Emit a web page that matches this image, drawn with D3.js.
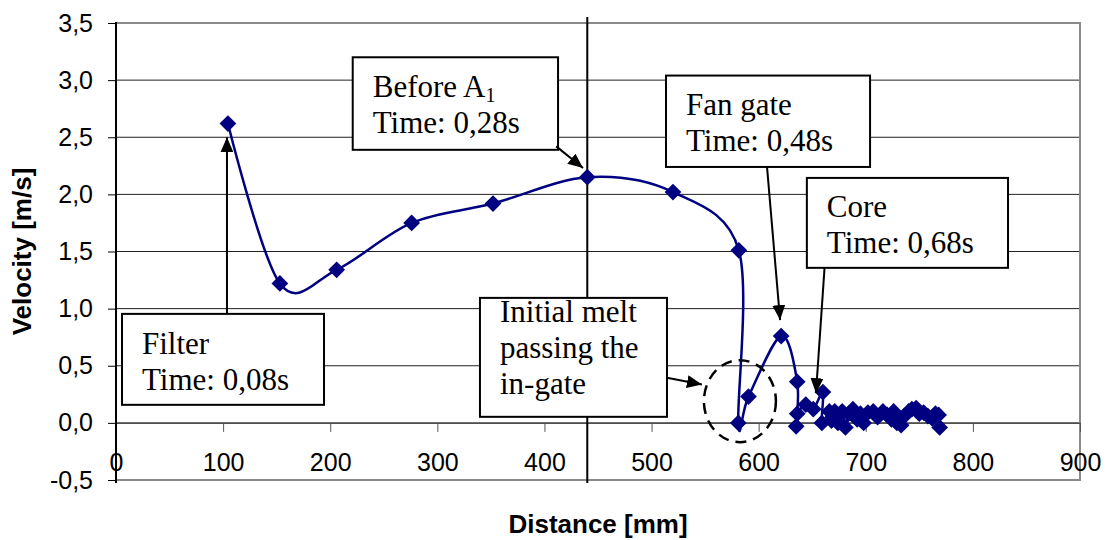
<!DOCTYPE html>
<html>
<head>
<meta charset="utf-8">
<script src="https://cdn.jsdelivr.net/npm/d3@7"></script>
<style>
  body { margin: 0; background: #fff; }
  svg { display: block; }
  text { font-family: "Liberation Sans", Arial, sans-serif; fill: #000; }
  .note text { font-family: "Liberation Serif", "Times New Roman", serif; font-size: 31px; }
</style>
</head>
<body>
<svg></svg>
<script>
// Data
const distance = [104.5, 153, 206, 276, 352, 440, 520, 581.5, 581, 590.5, 621, 636, 635, 636, 644, 651, 660, 659,
  666, 668, 671, 674, 678, 681, 684, 688, 692, 695, 698, 702, 707, 711, 716, 720, 724, 726, 729, 733, 736,
  740, 743, 747, 750, 754, 758, 762, 765, 768, 769];
const velocity = [2.62, 1.22, 1.34, 1.75, 1.92, 2.15, 2.02, 1.51, 0.0, 0.23, 0.76, 0.36, -0.03, 0.08, 0.16, 0.12, 0.27, 0.0,
  0.1, 0.02, 0.1, 0.0, 0.1, -0.04, 0.08, 0.12, 0.03, 0.08, 0.0, 0.09, 0.1, 0.05, 0.1, 0.07, 0.03, 0.1, 0.0, -0.02, 0.06,
  0.1, 0.12, 0.13, 0.08, 0.09, 0.06, 0.04, 0.08, 0.07, -0.04];
const xTicks = [0, 100, 200, 300, 400, 500, 600, 700, 800, 900];
const yTicks = [-0.5, 0, 0.5, 1, 1.5, 2, 2.5, 3, 3.5];
const markerLine = 440; // vertical reference line (mm)

// Annotation texts
const noteTexts = [
  ["Filter", "Time: 0,08s"],
  ["Before A", "Time: 0,28s"],
  ["Fan gate", "Time: 0,48s"],
  ["Core", "Time: 0,68s"],
  ["Initial melt", "passing the", "in-gate"]
];

// Dimensions and margins
const margin = { top: 23, right: 27, bottom: 60, left: 116 };
const width = 1107 - margin.left - margin.right;
const height = 540 - margin.top - margin.bottom;

const svg = d3.select("svg")
  .attr("width", width + margin.left + margin.right)
  .attr("height", height + margin.top + margin.bottom)
  .append("g")
  .attr("transform", `translate(${margin.left}, ${margin.top})`);

const xScale = d3.scaleLinear().domain([0, 900]).range([0, width]);
const yScale = d3.scaleLinear().domain([-0.5, 3.5]).range([height, 0]);

const comma = d3.formatLocale({ decimal: ",", thousands: ".", grouping: [3], currency: ["", ""], minus: "-" });

// Gridlines
svg.selectAll(".grid")
  .data(yTicks.filter(t => t > -0.5 && t < 3.5))
  .enter().append("line")
  .attr("x1", 0).attr("x2", width)
  .attr("y1", d => yScale(d)).attr("y2", d => yScale(d))
  .attr("stroke", "#222").attr("stroke-width", 1);

// Plot frame (grey)
svg.append("rect")
  .attr("width", width).attr("height", height)
  .attr("fill", "none").attr("stroke", "#8a8a8a").attr("stroke-width", 2);

// X axis sits on y = 0, labels pushed down
const xAxis = svg.append("g")
  .attr("transform", `translate(0, ${yScale(0)})`)
  .call(d3.axisBottom(xScale).tickValues(xTicks).tickSize(9).tickPadding(21).tickFormat(d3.format("d")));
xAxis.select(".domain").attr("stroke", "#444");
xAxis.selectAll(".tick line").attr("stroke", "#555");
xAxis.selectAll("text").style("font-size", "25px");

// Y axis
const yAxis = svg.append("g")
  .call(d3.axisLeft(yScale).tickValues(yTicks).tickSize(8).tickPadding(15).tickFormat(comma.format(".1f")));
yAxis.select(".domain").attr("stroke", "#000").attr("stroke-width", 2)
  .attr("d", `M0,${-1}V${height + 3}`);
yAxis.selectAll("text").style("font-size", "25px");

// Axis titles
svg.append("text")
  .attr("transform", "rotate(-90)")
  .attr("x", -height / 2)
  .attr("y", -margin.left + 31)
  .style("text-anchor", "middle")
  .style("font-weight", "bold")
  .style("font-size", "26px")
  .text("Velocity [m/s]");

svg.append("text")
  .attr("x", width / 2)
  .attr("y", height + 53)
  .style("text-anchor", "middle")
  .style("font-weight", "bold")
  .style("font-size", "26px")
  .text("Distance [mm]");

// Vertical reference line
svg.append("line")
  .attr("x1", xScale(markerLine)).attr("x2", xScale(markerLine))
  .attr("y1", -6).attr("y2", height + 3)
  .attr("stroke", "#000").attr("stroke-width", 2);

// Series
const points = distance.map((d, i) => ({ x: d, y: velocity[i] }));
const line = d3.line()
  .x(d => xScale(d.x))
  .y(d => yScale(d.y))
  .curve(d3.curveCatmullRom.alpha(0));

svg.append("path")
  .datum(points)
  .attr("fill", "none")
  .attr("stroke", "#000080")
  .attr("stroke-width", 2.5)
  .attr("d", line);

svg.selectAll(".pt")
  .data(points)
  .enter().append("path")
  .attr("class", "pt")
  .attr("d", d3.symbol(d3.symbolSquare, 140))
  .attr("transform", d => `translate(${xScale(d.x)}, ${yScale(d.y)}) rotate(45)`)
  .attr("fill", "#000080");

// Dashed ellipse around the in-gate point
svg.append("ellipse")
  .attr("cx", xScale(582.5)).attr("cy", yScale(0.19))
  .attr("rx", 36).attr("ry", 41)
  .attr("fill", "none").attr("stroke", "#000")
  .attr("stroke-width", 2.5).attr("stroke-dasharray", "11,7");

// Arrow head
svg.append("defs").append("marker")
  .attr("id", "arrow")
  .attr("viewBox", "0 0 15 13")
  .attr("refX", 15).attr("refY", 6.5)
  .attr("markerWidth", 15).attr("markerHeight", 13)
  .attr("markerUnits", "userSpaceOnUse")
  .attr("orient", "auto")
  .append("path").attr("d", "M0,0L15,6.5L0,13Z").attr("fill", "#000");

// Annotation boxes: [x0, y0, x1, y1] in data units, arrow from -> to
const notes = [
  { text: noteTexts[0], box: [5.6, 0.954, 194.2, 0.158], from: [103.6, 0.954], to: [103.6, 2.5], lead: 40 },
  { text: noteTexts[1], box: [221, 3.2, 412.7, 2.39], from: [411, 2.42], to: [436, 2.23], lead: 40, sub: "1" },
  { text: noteTexts[2], box: [513.5, 3.04, 704, 2.24], from: [607.8, 2.24], to: [620, 0.9], lead: 39 },
  { text: noteTexts[3], box: [645, 2.144, 832.8, 1.357], from: [661.5, 1.357], to: [653.5, 0.26], lead: 39 },
  { text: noteTexts[4], box: [339.8, 1.094, 514.4, 0.053], from: [514.4, 0.395], to: [547, 0.335], lead: 24 }
];

const note = svg.selectAll(".note")
  .data(notes)
  .enter().append("g")
  .attr("class", "note");

note.append("rect")
  .attr("x", d => xScale(d.box[0]))
  .attr("y", d => yScale(d.box[1]))
  .attr("width", d => xScale(d.box[2]) - xScale(d.box[0]))
  .attr("height", d => yScale(d.box[3]) - yScale(d.box[1]))
  .attr("fill", "#fff").attr("stroke", "#000").attr("stroke-width", 2);

note.each(function(d) {
  const g = d3.select(this);
  d.text.forEach((t, i) => {
    const txt = g.append("text")
      .attr("x", xScale(d.box[0]) + 20)
      .attr("y", yScale(d.box[1]) + d.lead + i * 36)
      .text(t);
    if (i === 0 && d.sub) {
      txt.append("tspan").attr("dy", 5).style("font-size", "20px").text(d.sub);
    }
  });
});

note.append("line")
  .attr("x1", d => xScale(d.from[0])).attr("y1", d => yScale(d.from[1]))
  .attr("x2", d => xScale(d.to[0])).attr("y2", d => yScale(d.to[1]))
  .attr("stroke", "#000").attr("stroke-width", 2)
  .attr("marker-end", "url(#arrow)");
</script>
</body>
</html>
